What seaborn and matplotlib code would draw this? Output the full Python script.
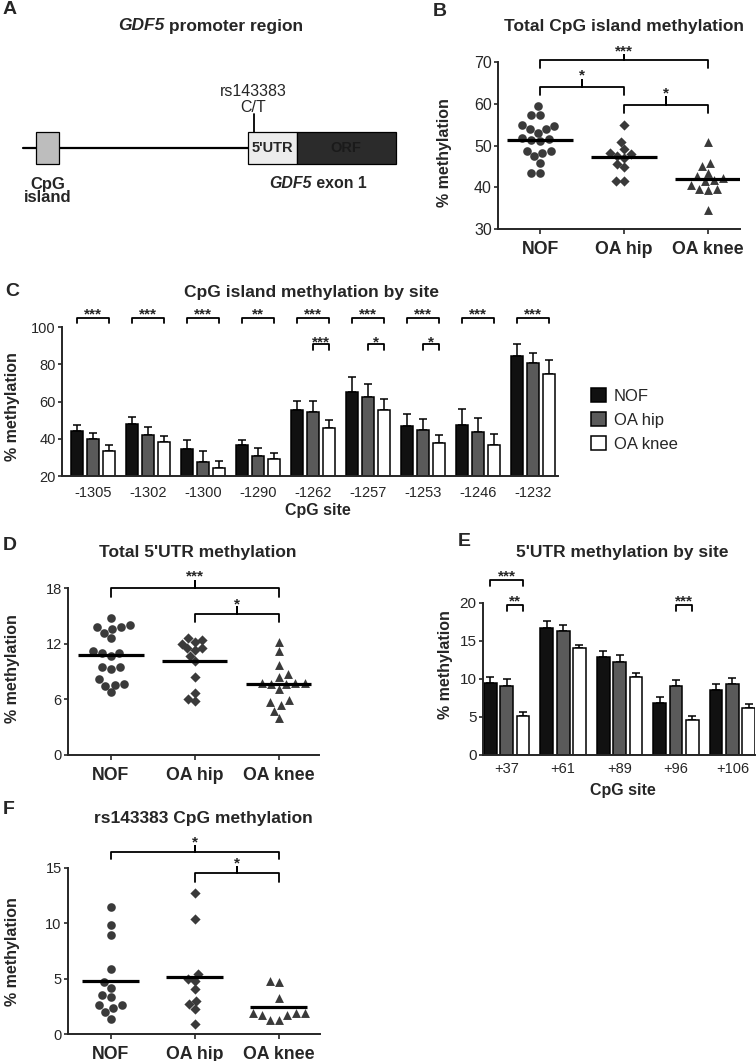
import numpy as np
import pandas as pd
import seaborn as sns
import matplotlib.pyplot as plt
from matplotlib import font_manager
from matplotlib.patches import Rectangle

# ---- data ----
groups = ['NOF', 'OA hip', 'OA knee']

# B: total CpG island methylation (%), one value per sample
cpg_nof = [59.4, 57.4, 57.4, 55.0, 54.0, 53.9, 54.7, 53.0, 51.9, 51.4,
           51.0, 51.5, 48.7, 48.6, 48.3, 47.4, 45.8, 43.4, 43.4]
cpg_hip = [55.0, 50.8, 49.2, 48.0, 47.1, 47.4, 48.3, 45.6, 44.8, 41.4, 41.4]
cpg_knee = [50.8, 45.9, 45.0, 43.4, 42.2, 41.4, 41.8, 42.6, 40.6, 39.5,
            39.4, 39.5, 34.6]

# C: CpG island methylation by site (mean, SEM)
cpg_sites = ['-1305', '-1302', '-1300', '-1290', '-1262', '-1257', '-1253', '-1246', '-1232']
site_nof = [44.4, 47.8, 34.3, 36.7, 55.5, 65.4, 46.9, 47.3, 84.6]
site_nof_err = [3.0, 4.1, 5.0, 2.5, 4.7, 8.1, 6.3, 8.8, 6.4]
site_hip = [39.7, 42.1, 27.7, 30.9, 54.6, 62.7, 44.9, 43.7, 81.0]
site_hip_err = [3.6, 4.1, 5.5, 4.3, 5.6, 6.6, 6.0, 7.5, 5.2]
site_knee = [33.5, 38.5, 24.5, 29.1, 46.0, 55.5, 37.8, 36.7, 74.7]
site_knee_err = [3.0, 3.2, 3.6, 3.1, 4.0, 6.1, 4.3, 6.1, 7.5]
site_sig_nk = ['***', '***', '***', '**', '***', '***', '***', '***', '***']
site_sig_hk = ['', '', '', '', '***', '*', '*', '', '']

# D: total 5'UTR methylation (%)
utr_nof = [14.8, 14.0, 13.8, 13.6, 13.8, 13.2, 12.6, 11.2, 11.0, 10.7,
           11.0, 9.5, 9.3, 9.5, 8.2, 7.6, 7.5, 7.7, 6.8]
utr_hip = [12.6, 12.0, 11.5, 12.2, 12.4, 11.3, 11.5, 10.7, 10.1, 8.4,
           6.7, 5.8, 6.1]
utr_knee = [12.2, 11.2, 9.7, 8.7, 8.4, 7.8, 7.7, 7.7, 7.8, 7.8, 7.1,
            5.7, 5.9, 5.4, 4.8, 4.0]

# E: 5'UTR methylation by site (mean, SEM)
utr_sites = ['+37', '+61', '+89', '+96', '+106']
usite_nof = [9.5, 16.7, 12.9, 6.8, 8.6]
usite_nof_err = [0.8, 0.9, 0.75, 0.8, 0.7]
usite_hip = [9.0, 16.3, 12.25, 9.0, 9.3]
usite_hip_err = [1.0, 0.8, 0.85, 0.9, 0.8]
usite_knee = [5.1, 14.0, 10.25, 4.6, 6.2]
usite_knee_err = [0.5, 0.5, 0.5, 0.55, 0.5]
usite_sig_nk = ['***', '', '', '', '']
usite_sig_hk = ['**', '', '', '***', '']

# F: rs143383 CpG methylation (%)
rs_nof = [11.5, 9.8, 8.9, 5.9, 4.7, 4.2, 3.4, 3.5, 2.6, 2.4, 2.6, 2.0, 1.4]
rs_hip = [12.7, 10.4, 5.4, 4.8, 5.0, 4.1, 3.0, 2.7, 2.3, 0.9]
rs_knee = [4.7, 4.8, 3.3, 1.95, 1.9, 1.75, 1.3, 1.3, 1.75, 1.95]

# ---- style ----
sns.set_style('ticks')
plt.rcParams['font.family'] = ['Liberation Sans', 'DejaVu Sans']
plt.rcParams['axes.linewidth'] = 1.4
installed = {f.name for f in font_manager.fontManager.ttflist}
NARROW = 'Liberation Sans Narrow' if 'Liberation Sans Narrow' in installed else 'Liberation Sans'

bar_colors = ['#111111', '#5a5a5a', '#ffffff']
dot_color = '#3a3a3a'
markers = ['o', 'D', '^']
msizes = [6.2, 5.2, 6.4]

W, H = 756, 1061
fig = plt.figure(figsize=(W / 100, H / 100), dpi=100)


def ax_px(x0, y0, x1, y1):
    return fig.add_axes([x0 / W, 1 - y1 / H, (x1 - x0) / W, (y1 - y0) / H])


def ftext(x, y, s, **kw):
    kw.setdefault('ha', 'center')
    kw.setdefault('va', 'center')
    return fig.text(x / W, 1 - y / H, s, **kw)


def ylabel_at(ax, x, y):
    ax.set_ylabel('% methylation', fontsize=11.5, fontweight='bold')
    inv = ax.transAxes.inverted()
    ax.yaxis.set_label_coords(*inv.transform(fig.transFigure.transform((x / W, 1 - y / H))))


def style_axes(ax, ylim, yticks, tick_font, tick_size):
    ax.set_ylim(ylim)
    ax.set_yticks(yticks)
    sns.despine(ax=ax)
    ax.tick_params(axis='y', length=3, width=1.2, pad=1.5, labelsize=tick_size,
                   labelfontfamily=tick_font)
    ax.set_xlabel('')
    ax.set_ylabel('')


def brace(ax, x1, x2, y, drop, peak, label, star_y):
    xm = (x1 + x2) / 2
    ax.plot([x1, x1, xm, xm, xm, x2, x2], [y - drop, y, y, y + peak, y, y, y - drop],
            color='black', lw=1.3, clip_on=False, solid_joinstyle='round')
    ax.annotate(label, (xm, star_y), xytext=(0, -5.6), textcoords='offset points',
                ha='center', va='baseline', fontsize=11, fontweight='bold',
                annotation_clip=False)


def square(ax, x1, x2, y, drop, label, star_y):
    ax.plot([x1, x1, x2, x2], [y - drop, y, y, y - drop], color='black', lw=1.3,
            clip_on=False)
    ax.annotate(label, ((x1 + x2) / 2, star_y), xytext=(0, -5.6), textcoords='offset points',
                ha='center', va='baseline', fontsize=11, fontweight='bold',
                annotation_clip=False)


def dot_panel(ax, values, half):
    df = pd.DataFrame({'group': np.repeat(groups, [len(v) for v in values]),
                       'value': np.concatenate(values)})
    for g, m, s in zip(groups, markers, msizes):
        sns.swarmplot(data=df[df['group'] == g], x='group', y='value', order=groups,
                      marker=m, size=s, color=dot_color, linewidth=0, ax=ax)
    means = df.groupby('group')['value'].mean()
    for i, g in enumerate(groups):
        ax.hlines(means[g], i - half, i + half, color='black', lw=2.3, zorder=5)
    ax.tick_params(axis='x', length=3.5, width=1.2, pad=5, labelsize=12.8)
    for t in ax.get_xticklabels():
        t.set_fontweight('bold')


def bar_panel(ax, sites, means, errs, legend, pad):
    df = pd.DataFrame({'site': np.tile(sites, 3),
                       'group': np.repeat(groups, len(sites)),
                       'value': np.concatenate(means)})
    sns.barplot(data=df, x='site', y='value', hue='group', hue_order=groups, order=sites,
                palette=bar_colors, edgecolor='black', linewidth=1.1, width=0.87, gap=0.22,
                errorbar=None, legend=legend, ax=ax)
    centers = []
    for cont, err in zip(list(ax.containers), errs):
        xs = [p.get_x() + p.get_width() / 2 for p in cont]
        hs = [p.get_height() for p in cont]
        ax.errorbar(xs, hs, yerr=[np.zeros(len(err)), err], fmt='none', ecolor='black',
                    elinewidth=1.1, capsize=2.6, capthick=1.1, zorder=0.5)
        centers.append(xs)
    ax.tick_params(axis='x', length=0, pad=pad, labelsize=10.5)
    return centers


# ---- A: promoter schematic ----
ax_a = ax_px(0, 0, 420, 210)
ax_a.set_xlim(0, 420)
ax_a.set_ylim(210, 0)
ax_a.axis('off')
ax_a.plot([23, 248], [148, 148], color='black', lw=1.6, zorder=1)
ax_a.add_patch(Rectangle((36, 132), 23, 32, facecolor='#bdbdbd', edgecolor='black', lw=0.9, zorder=2))
ax_a.add_patch(Rectangle((248, 132), 49, 32, facecolor='#ececec', edgecolor='black', lw=0.9, zorder=2))
ax_a.add_patch(Rectangle((297, 132), 99, 32, facecolor='#2b2b2b', edgecolor='black', lw=0.9, zorder=2))
ax_a.plot([254, 254], [114, 132], color='black', lw=1.3)
ax_a.text(272.5, 148.5, "5'UTR", ha='center', va='center', fontsize=10.5, fontweight='bold')
ax_a.text(346, 148.5, 'ORF', ha='center', va='center', fontsize=10.5, fontweight='bold', color='#1a1a1a')
ax_a.text(253, 92, 'rs143383', ha='center', va='center', fontsize=11.5)
ax_a.text(253, 108, 'C/T', ha='center', va='center', fontsize=11.5)
ax_a.text(48, 184, 'CpG', ha='center', va='center', fontsize=12, fontweight='bold')
ax_a.text(48, 198, 'island', ha='center', va='center', fontsize=12, fontweight='bold')
ax_a.text(312, 184, 'GDF5', ha='right', va='center', fontsize=11.4, fontweight='bold', style='italic')
ax_a.text(312, 184, ' exon 1', ha='left', va='center', fontsize=11.4, fontweight='bold')
ftext(164, 26, 'GDF5', ha='right', fontsize=12.5, fontweight='bold', style='italic')
ftext(164, 26, ' promoter region', ha='left', fontsize=12.5, fontweight='bold')

# ---- B ----
ax_b = ax_px(498, 62.3, 740, 229)
dot_panel(ax_b, [cpg_nof, cpg_hip, cpg_knee], 0.39)
style_axes(ax_b, (30, 70), [30, 40, 50, 60, 70], 'Liberation Sans', 11.5)
ax_b.set_xlim(-0.5, 2.38)
brace(ax_b, 0, 2, 70.6, 1.9, 1.2, '***', 73.4)
brace(ax_b, 0, 1, 64.1, 1.9, 1.7, '*', 67.7)
brace(ax_b, 1, 2, 59.8, 1.9, 1.9, '*', 63.4)
ylabel_at(ax_b, 452, 153)
ftext(624, 27, 'Total CpG island methylation', fontsize=12.5, fontweight='bold')

# ---- C ----
ax_c = ax_px(62, 327.3, 558, 476)
c_x = bar_panel(ax_c, cpg_sites, [site_nof, site_hip, site_knee],
                [site_nof_err, site_hip_err, site_knee_err], True, 7)
style_axes(ax_c, (20, 100), [20, 40, 60, 80, 100], NARROW, 10.5)
ax_c.set_xlim(-0.56, 8.45)
for i, s in enumerate(site_sig_nk):
    if s:
        square(ax_c, c_x[0][i], c_x[2][i], 105.1, 2.8, s, 108.8)
for i, s in enumerate(site_sig_hk):
    if s:
        square(ax_c, c_x[1][i], c_x[2][i], 90.9, 3.0, s, 94.1)
handles, labels = ax_c.get_legend_handles_labels()
ax_c.legend(handles, labels, loc='upper left', bbox_to_anchor=(591 / W, 1 - 388 / H),
            bbox_transform=fig.transFigure, frameon=False, fontsize=12, borderpad=0,
            borderaxespad=0, handlelength=0.9, handleheight=0.9, handletextpad=0.45,
            labelspacing=0.5)
ylabel_at(ax_c, 20, 407)
ftext(312, 292, 'CpG island methylation by site', fontsize=12.5, fontweight='bold')
ftext(318, 511, 'CpG site', fontsize=11.5, fontweight='bold')

# ---- D ----
ax_d = ax_px(68, 588.3, 319, 755)
dot_panel(ax_d, [utr_nof, utr_hip, utr_knee], 0.39)
style_axes(ax_d, (0, 18), [0, 6, 12, 18], NARROW, 10.5)
ax_d.set_xlim(-0.51, 2.48)
brace(ax_d, 0, 2, 18.0, 0.9, 0.75, '***', 19.65)
brace(ax_d, 1, 2, 15.2, 0.85, 0.8, '*', 16.7)
ylabel_at(ax_d, 20, 669)
ftext(198, 552, "Total 5'UTR methylation", fontsize=12.5, fontweight='bold')

# ---- E ----
ax_e = ax_px(483, 602.7, 755, 755)
e_x = bar_panel(ax_e, utr_sites, [usite_nof, usite_hip, usite_knee],
                [usite_nof_err, usite_hip_err, usite_knee_err], False, 5)
style_axes(ax_e, (0, 20), [0, 5, 10, 15, 20], NARROW, 11)
ax_e.set_xlim(-0.42, 4.4)
for i, s in enumerate(usite_sig_nk):
    if s:
        square(ax_e, e_x[0][i], e_x[2][i], 23.0, 0.85, s, 23.9)
for i, s in enumerate(usite_sig_hk):
    if s:
        square(ax_e, e_x[1][i], e_x[2][i], 19.7, 0.8, s, 20.65)
ylabel_at(ax_e, 453, 665)
ftext(622, 552, "5'UTR methylation by site", fontsize=12.5, fontweight='bold')
ftext(623, 791, 'CpG site', fontsize=11.5, fontweight='bold')

# ---- F ----
ax_f = ax_px(68, 867.7, 320, 1034.3)
dot_panel(ax_f, [rs_nof, rs_hip, rs_knee], 0.34)
style_axes(ax_f, (0, 15), [0, 5, 10, 15], NARROW, 10.5)
ax_f.set_xlim(-0.51, 2.49)
brace(ax_f, 0, 2, 16.4, 0.65, 0.55, '*', 17.6)
brace(ax_f, 1, 2, 14.5, 0.8, 0.55, '*', 15.7)
ylabel_at(ax_f, 20, 952)
ftext(203, 818, 'rs143383 CpG methylation', fontsize=12.5, fontweight='bold')

# ---- panel letters ----
for letter, x, y in [('A', 10, 10), ('B', 440, 11), ('C', 12, 292),
                     ('D', 10, 545), ('E', 464, 542), ('F', 9, 810)]:
    ftext(x, y, letter, fontsize=14, fontweight='bold')

fig.savefig('out.png', dpi=100)
